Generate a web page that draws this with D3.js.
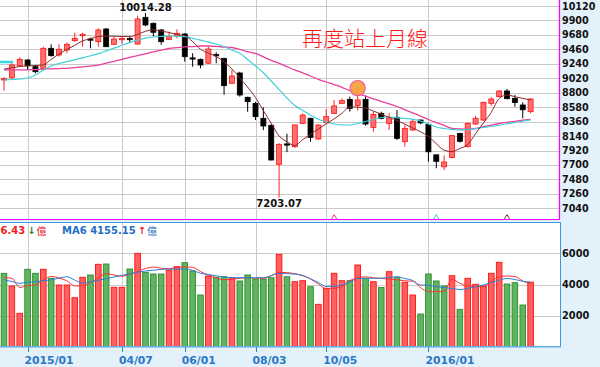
<!DOCTYPE html>
<html><head><meta charset="utf-8">
<script src="https://cdn.jsdelivr.net/npm/d3@7"></script>
<style>html,body{margin:0;padding:0;background:#e3f1fb;overflow:hidden}svg{display:block}</style>
</head><body>
<svg id="c" width="600" height="367"></svg>
<script>
// ---------- DATA (weekly TAIEX) ----------
const weeks = ["2014/12/15","2014/12/22","2014/12/29","2015/01/05","2015/01/12","2015/01/19","2015/01/26","2015/02/02","2015/02/09","2015/02/23",
"2015/03/02","2015/03/09","2015/03/16","2015/03/23","2015/03/30","2015/04/07","2015/04/13","2015/04/20","2015/04/27","2015/05/04",
"2015/05/11","2015/05/18","2015/05/25","2015/06/01","2015/06/08","2015/06/15","2015/06/22","2015/06/29","2015/07/06","2015/07/13",
"2015/07/20","2015/07/27","2015/08/03","2015/08/10","2015/08/17","2015/08/24","2015/08/31","2015/09/07","2015/09/14","2015/09/21",
"2015/09/28","2015/10/05","2015/10/12","2015/10/19","2015/10/26","2015/11/02","2015/11/09","2015/11/16","2015/11/23","2015/11/30",
"2015/12/07","2015/12/14","2015/12/21","2015/12/28","2016/01/04","2016/01/11","2016/01/18","2016/01/25","2016/02/01","2016/02/15",
"2016/02/22","2016/03/01","2016/03/07","2016/03/14","2016/03/21","2016/03/28","2016/04/05","2016/04/11"];

const open  = [9000,9034,9211,9298,9196,9171,9476,9374,9450,9592,9668,9617,9577,9770,9537,9610,9625,9541,9948,9856,
9755,9612,9663,9694,9330,9308,9248,9380,9323,8943,9100,8730,8638,8410,8303,7710,8020,7978,8333,8410,
8095,8343,8486,8638,8699,8603,8699,8272,8486,8333,8425,8054,8232,8384,8318,7854,7672,7815,8181,7978,
8323,8384,8638,8740,8826,8714,8613,8511];
const high  = [9035,9250,9340,9308,9222,9500,9537,9537,9562,9714,9714,9637,9780,9785,9653,9663,9650,9972,10014.28,9870,
9770,9729,9765,9705,9400,9320,9500,9415,9330,9146,9120,8740,8660,8577,8320,8030,8175,8320,8486,8420,
8320,8550,8689,8714,8740,8890,8755,8511,8511,8486,8536,8308,8400,8390,8330,7860,7845,8160,8185,8345,
8445,8660,8730,8840,8857,8765,8653,8714];
const low   = [8830,8993,9200,9146,9095,9135,9348,9350,9400,9577,9500,9476,9500,9495,9526,9541,9560,9530,9810,9655,
9530,9602,9628,9272,9196,9171,9235,9248,8770,8930,8740,8510,8384,8230,7770,7203.07,7895,7960,8320,8054,
8080,8330,8475,8630,8511,8526,8300,8206,8395,8232,8080,7978,8220,8320,7750,7650,7624,7800,8040,7965,
8310,8370,8600,8730,8700,8587,8410,8486];
const close = [9012,9222,9308,9211,9120,9476,9364,9461,9537,9628,9689,9600,9755,9500,9617,9625,9610,9922,9831,9720,
9577,9653,9704,9348,9320,9222,9465,9370,8907,9054,8765,8663,8435,8293,7775,8014,8005,8308,8460,8120,
8308,8435,8598,8679,8562,8689,8323,8470,8410,8420,8105,8257,8359,8340,7900,7755,7745,8146,8060,8333,
8410,8654,8704,8826,8709,8650,8540,8704];
const prevClose = 9050; // close of the week before the first bar

const ma4  = [9158,9181,9199,9207,9214,9222,9307,9389,9458,9522,9589,9624,9656,9662,9660,9656,9654,9688,9735,9756,
9738,9717,9686,9669,9578,9462,9403,9351,9267,9161,9025,8885,8727,8526,8336,8141,8054,7996,8086,8165,
8247,8326,8403,8486,8585,8579,8564,8521,8473,8424,8377,8322,8262,8205,8136,8023,7925,7903,7952,8011,
8177,8340,8502,8712,8765,8739,8713,8689];
const ma13 = [8993,9001,9009,9024,9070,9146,9207,9245,9272,9301,9331,9362,9395,9436,9478,9522,9563,9598,9630,9648,
9657,9663,9659,9654,9628,9601,9570,9541,9499,9450,9401,9305,9206,9104,8978,8847,8719,8605,8529,8456,
8395,8354,8323,8308,8308,8331,8361,8392,8422,8430,8418,8407,8395,8369,8323,8278,8255,8240,8232,8240,
8255,8270,8285,8304,8327,8346,8365,8384];
const ma26 = [9146,9146,9146,9146,9153,9158,9164,9168,9171,9182,9194,9206,9219,9249,9278,9307,9337,9365,9392,9420,
9447,9473,9485,9497,9503,9511,9511,9505,9496,9488,9459,9426,9397,9345,9293,9248,9197,9147,9103,9054,
9004,8963,8924,8882,8832,8789,8747,8707,8669,8630,8590,8541,8492,8444,8392,8343,8301,8258,8247,8243,
8255,8282,8308,8331,8349,8365,8381,8395];
const ma52Stub = [9267,9267]; // short thick cyan segment at the left edge

const volume = [4724,3910,2160,4981,4724,4981,4404,3974,3974,3160,4468,4615,5301,5320,3827,3827,5000,6006,4788,4679,
4679,4936,5147,5404,4872,3333,4551,4468,4506,4442,4231,4615,4359,4359,4442,5942,4506,4186,4250,3865,
2737,3763,4724,4250,4250,5256,4404,4186,3814,4827,4468,4147,3333,2115,4679,4231,3910,4570,2417,4404,
4019,3910,4724,5429,4038,4122,2692,4156.43];
const volMa3 = [4449,4404,3814,3936,3974,4295,4525,4423,4243,3910,3936,4122,4423,4699,4615,4538,4660,4840,5032,5128,
5051,5019,5102,5134,5109,4840,4602,4442,4308,4352,4397,4442,4423,4404,4564,4782,4769,4699,4570,4359,
4038,3731,3763,3872,4256,4436,4500,4436,4397,4352,4308,4243,4211,3814,3545,3545,3570,4340,4083,3910,
3865,3865,4231,4487,4551,4519,4231,4038];
const volMa6 = [4308,4199,4083,4134,4192,4243,4308,4410,4506,4295,4090,4173,4275,4384,4487,4596,4699,4795,4872,4923,
4974,5000,5000,5000,4916,4724,4647,4564,4487,4442,4442,4442,4442,4442,4577,4711,4699,4673,4590,4372,
4134,3878,3897,3974,4167,4384,4404,4404,4410,4455,4500,4391,4263,3974,3961,3865,3814,3750,3686,3750,
3859,3974,4134,4282,4391,4327,4211,4155.15];

const priceTicks = [10120,9900,9680,9460,9240,9020,8800,8580,8360,8140,7920,7700,7480,7260,7040];
const volTicks = [2000,4000,6000];
const dateTicks = [
  {week:"2015/01/05", label:"2015/01"},
  {week:"2015/04/07", label:"04/07"},
  {week:"2015/06/01", label:"06/01"},
  {week:"2015/08/03", label:"08/03"},
  {week:"2015/10/05", label:"10/05"},
  {week:"2016/01/04", label:"2016/01"}
];
const signalMarks = [
  {week:"2015/10/12", color:"#e8409c"},
  {week:"2016/01/11", color:"#38c8d4"},
  {week:"2016/03/21", color:"#8b2a2a"}
];
const circleMark = {week:"2015/11/02", value:8870};
const title = "再度站上月線";

// ---------- CHART ----------
const svg = d3.select("#c");
const topP = {x0:0, x1:560, y0:0, y1:219.5};
const volP = {x0:0, x1:560, y0:222.5, y1:346.5};

const x = d3.scalePoint().domain(weeks).range([4, 530.6]);
const yP = d3.scaleLinear().domain([7040, 10120]).range([208.3, 6]);
const yV = d3.scaleLinear().domain([0, 6000]).range([347, 253.4]);

const defs = svg.append("defs");
defs.append("clipPath").attr("id","clipTop").append("rect")
  .attr("x",topP.x0).attr("y",topP.y0).attr("width",topP.x1-topP.x0-0.5).attr("height",topP.y1-topP.y0);
defs.append("clipPath").attr("id","clipVol").append("rect")
  .attr("x",volP.x0).attr("y",volP.y0).attr("width",volP.x1-volP.x0).attr("height",volP.y1-volP.y0);

// panel backgrounds
svg.append("rect").attr("x",topP.x0).attr("y",topP.y0).attr("width",topP.x1-topP.x0).attr("height",topP.y1-topP.y0).attr("fill","#fff");
svg.append("rect").attr("x",volP.x0).attr("y",volP.y0).attr("width",volP.x1-volP.x0).attr("height",volP.y1-volP.y0).attr("fill","#fff");

const gridC = "#c9c9c9";
// top grid
const gT = svg.append("g").attr("clip-path","url(#clipTop)");
gT.selectAll("line.h").data(priceTicks).join("line")
  .attr("x1",0).attr("x2",560).attr("y1",d=>Math.round(yP(d))+0.5).attr("y2",d=>Math.round(yP(d))+0.5)
  .attr("stroke",gridC).attr("stroke-width",1);
gT.selectAll("line.v").data(dateTicks).join("line")
  .attr("x1",d=>Math.round(x(d.week))+0.5).attr("x2",d=>Math.round(x(d.week))+0.5).attr("y1",0).attr("y2",219)
  .attr("stroke",gridC).attr("stroke-width",1);

// volume grid
const gV = svg.append("g").attr("clip-path","url(#clipVol)");
gV.selectAll("line.h").data(volTicks).join("line")
  .attr("x1",0).attr("x2",560).attr("y1",d=>Math.round(yV(d))+0.5).attr("y2",d=>Math.round(yV(d))+0.5)
  .attr("stroke",gridC).attr("stroke-width",1);
gV.selectAll("line.v").data(dateTicks).join("line")
  .attr("x1",d=>Math.round(x(d.week))+0.5).attr("x2",d=>Math.round(x(d.week))+0.5).attr("y1",222).attr("y2",347)
  .attr("stroke",gridC).attr("stroke-width",1);

// candles
const idx = d3.range(weeks.length);
const isUp = i => close[i] >= open[i];
const cG = gT.append("g");
cG.selectAll("line.wick").data(idx).join("line")
  .attr("x1",i=>x(weeks[i])).attr("x2",i=>x(weeks[i]))
  .attr("y1",i=>yP(high[i])).attr("y2",i=>yP(low[i]))
  .attr("stroke",i=>isUp(i)?"#f22":"#000").attr("stroke-width",1);
cG.selectAll("rect.body").data(idx).join("rect")
  .attr("x",i=>x(weeks[i])-2.5)
  .attr("width",5)
  .attr("y",i=>yP(Math.max(open[i],close[i])))
  .attr("height",i=>Math.max(1.2, Math.abs(yP(open[i])-yP(close[i]))))
  .attr("fill",i=>isUp(i)?"#ff6f6f":"#000")
  .attr("stroke",i=>isUp(i)?"#f11":"#000").attr("stroke-width",0.8);

// MA lines
const lineP = d3.line().x((d,i)=>x(weeks[i])).y(d=>yP(d)).curve(d3.curveMonotoneX);
gT.append("path").attr("d",lineP(ma26)).attr("fill","none").attr("stroke","#e8409c").attr("stroke-width",1.3);
gT.append("path").attr("d",lineP(ma13)).attr("fill","none").attr("stroke","#3fd0d8").attr("stroke-width",1.2);
gT.append("path").attr("d",lineP(ma4)).attr("fill","none").attr("stroke","#8b2a2a").attr("stroke-width",1);
gT.append("path")
  .attr("d",d3.line().x((d,i)=>i===0?0:x(weeks[i])+1).y(d=>yP(d))(ma52Stub))
  .attr("fill","none").attr("stroke","#30d8e8").attr("stroke-width",2.4);

// circle mark
gT.append("circle").attr("cx",x(circleMark.week)).attr("cy",yP(circleMark.value)).attr("r",7.6)
  .attr("fill","#f6a23c").attr("stroke","#ee5aa8").attr("stroke-width",1.2).attr("fill-opacity",0.95);

// signal chevrons
gT.selectAll("path.sig").data(signalMarks).join("path")
  .attr("d",d=>{const cx=x(d.week);return `M${cx-2.6},219 L${cx},214.6 L${cx+2.6},219`;})
  .attr("fill","none").attr("stroke",d=>d.color).attr("stroke-width",1);

// high / low labels
const fmt2 = d3.format(".2f");
const hiI = d3.maxIndex(high), loI = d3.minIndex(low);
svg.append("text").attr("x",x(weeks[hiI])).attr("y",7).attr("text-anchor","middle").attr("dominant-baseline","central")
  .attr("font-family","DejaVu Sans").attr("font-weight","bold").attr("font-size",10).attr("fill","#111").text(fmt2(high[hiI]));
svg.append("text").attr("x",x(weeks[loI])).attr("y",203.5).attr("text-anchor","middle").attr("dominant-baseline","central")
  .attr("font-family","DejaVu Sans").attr("font-weight","bold").attr("font-size",10).attr("fill","#111").text(fmt2(low[loI]));

// title
svg.append("text").attr("x",302).attr("y",37).attr("dominant-baseline","central")
  .attr("font-family","'Noto Sans CJK TC','Noto Sans CJK SC',sans-serif").attr("font-size",21).attr("font-weight",300)
  .attr("fill","#ff1a1a").text(title);

// top panel borders
svg.append("line").attr("x1",559.5).attr("x2",559.5).attr("y1",0).attr("y2",220).attr("stroke","#f0f").attr("stroke-width",1.2);
svg.append("line").attr("x1",0).attr("x2",560).attr("y1",219.5).attr("y2",219.5).attr("stroke","#f0f").attr("stroke-width",1.2);

// price axis labels
svg.append("g").selectAll("text").data(priceTicks).join("text")
  .attr("x",562).attr("y",d=>yP(d)).attr("dominant-baseline","central")
  .attr("font-family","DejaVu Sans").attr("font-weight","bold").attr("font-size",9.6).attr("fill","#111")
  .text(d=>d);

// volume bars
const volUp = i => close[i] >= (i===0 ? prevClose : close[i-1]);
const vG = gV.append("g");
vG.selectAll("rect.vb").data(idx).join("rect")
  .attr("x",i=>x(weeks[i])-2.8).attr("width",5.6)
  .attr("y",i=>yV(volume[i])).attr("height",i=>yV(0)-yV(volume[i]))
  .attr("fill",i=>volUp(i)?"#ff5f5f":"#5fb55f")
  .attr("stroke",i=>volUp(i)?"#f11":"#2b8a2b").attr("stroke-width",0.9);

const lineV = d3.line().x((d,i)=>x(weeks[i])).y(d=>yV(d)).curve(d3.curveMonotoneX);
gV.append("path").attr("d",lineV(volMa3)).attr("fill","none").attr("stroke","#ff3030").attr("stroke-width",1);
gV.append("path").attr("d",lineV(volMa6)).attr("fill","none").attr("stroke","#2a7fd4").attr("stroke-width",1);

// volume panel border
svg.append("rect").attr("x",-1).attr("y",222.5).attr("width",561.5).attr("height",124)
  .attr("fill","none").attr("stroke","#3d97da").attr("stroke-width",1);
svg.append("line").attr("x1",0).attr("x2",561).attr("y1",346.8).attr("y2",346.8).attr("stroke","#62aee4").attr("stroke-width",1.4);

// volume axis labels
svg.append("g").selectAll("text").data(volTicks).join("text")
  .attr("x",562).attr("y",d=>yV(d)).attr("dominant-baseline","central")
  .attr("font-family","DejaVu Sans").attr("font-weight","bold").attr("font-size",9.8).attr("fill","#111")
  .text(d=>d);

// volume header (the reference only shows the tail of the last volume value)
const fmtV = d3.format(".2f");
const last = volume.length-1;
const hdr = svg.append("text").attr("x",0.5).attr("y",230).attr("dominant-baseline","central")
  .attr("font-family","DejaVu Sans").attr("font-weight","bold").attr("font-size",10);
hdr.append("tspan").attr("fill","#f02020").text(fmtV(volume[last]).slice(3));
hdr.append("tspan").attr("fill","#1a8a1a").attr("dx",2).text("↓");
hdr.append("tspan").attr("fill","#f02020").attr("dx",1).attr("font-family","'Noto Sans CJK TC'").attr("font-weight","normal").text("億");
const hdr2 = svg.append("text").attr("x",62).attr("y",230).attr("dominant-baseline","central")
  .attr("font-family","DejaVu Sans").attr("font-weight","bold").attr("font-size",10);
hdr2.append("tspan").attr("fill","#1e6fc4").text("MA6 " + fmtV(volMa6[last]));
hdr2.append("tspan").attr("fill","#f02020").attr("dx",2).text("↑");
hdr2.append("tspan").attr("fill","#1e6fc4").attr("dx",1).attr("font-family","'Noto Sans CJK TC'").attr("font-weight","normal").text("億");

// x axis ticks & labels
const xa = svg.append("g");
xa.selectAll("line").data(dateTicks).join("line")
  .attr("x1",d=>Math.round(x(d.week))+0.5).attr("x2",d=>Math.round(x(d.week))+0.5)
  .attr("y1",347).attr("y2",352).attr("stroke","#2f86d2").attr("stroke-width",1);
xa.selectAll("text").data(dateTicks).join("text")
  .attr("x",d=>x(d.week)-3).attr("y",360.5).attr("dominant-baseline","central")
  .attr("font-family","DejaVu Sans").attr("font-weight","bold").attr("font-size",10.8).attr("fill","#2a78c6")
  .text(d=>d.label);
</script>
</body></html>
